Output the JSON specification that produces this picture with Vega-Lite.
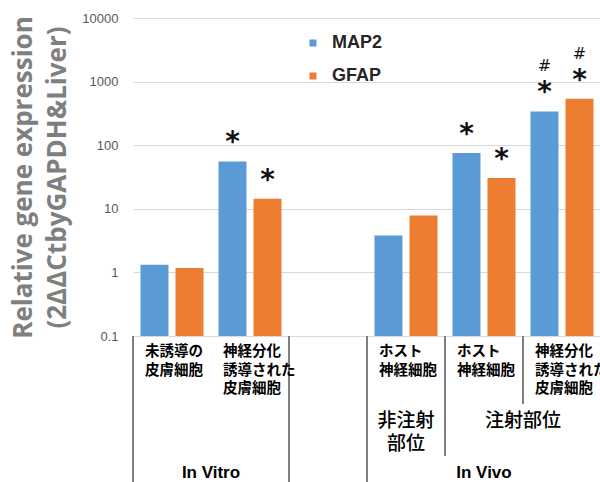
{
  "$schema": "https://vega.github.io/schema/vega-lite/v6.json",
  "padding": {"left": 10, "top": 12, "right": 0, "bottom": 0},
  "background": "white",
  "spacing": 0,
  "bounds": "flush",
  "config": {"view": {"stroke": null}},
  "datasets": {
    "bars": [
      {"cat": "A", "series": "MAP2", "value": 1.32, "sig": "", "hash": ""},
      {"cat": "A", "series": "GFAP", "value": 1.17, "sig": "", "hash": ""},
      {"cat": "B", "series": "MAP2", "value": 55.6, "sig": "*", "hash": ""},
      {"cat": "B", "series": "GFAP", "value": 14.4, "sig": "*", "hash": ""},
      {"cat": "D", "series": "MAP2", "value": 3.82, "sig": "", "hash": ""},
      {"cat": "D", "series": "GFAP", "value": 7.87, "sig": "", "hash": ""},
      {"cat": "E", "series": "MAP2", "value": 75.4, "sig": "*", "hash": ""},
      {"cat": "E", "series": "GFAP", "value": 30.5, "sig": "*", "hash": ""},
      {"cat": "F", "series": "MAP2", "value": 340, "sig": "*", "hash": "#"},
      {"cat": "F", "series": "GFAP", "value": 538, "sig": "*", "hash": "#"}
    ],
    "dividers": [
      {"pos": 0, "depth": 160},
      {"pos": 2, "depth": 160},
      {"pos": 3, "depth": 160},
      {"pos": 4, "depth": 120},
      {"pos": 5, "depth": 68}
    ],
    "level1": [
      {"pos": 0.5, "label": "未誘導の\n皮膚細胞"},
      {"pos": 1.5, "label": "神経分化\n誘導された\n皮膚細胞"},
      {"pos": 3.5, "label": "ホスト\n神経細胞"},
      {"pos": 4.5, "label": "ホスト\n神経細胞"},
      {"pos": 5.5, "label": "神経分化\n誘導された\n皮膚細胞"}
    ],
    "level2": [
      {"pos": 3.5, "label": "非注射\n部位"},
      {"pos": 5.0, "label": "注射部位"}
    ],
    "level3": [
      {"pos": 1.0, "label": "In Vitro"},
      {"pos": 4.5, "label": "In Vivo"}
    ]
  },
  "vconcat": [
    {
      "width": 468,
      "height": 318,
      "data": {"name": "bars"},
      "encoding": {
        "x": {"field": "cat", "type": "nominal", "scale": {"domain": ["A", "B", "C", "D", "E", "F"], "paddingInner": 0, "paddingOuter": 0},
              "axis": null},
        "xOffset": {"field": "series", "type": "nominal", "scale": {"domain": ["MAP2", "GFAP"], "paddingInner": 0.2, "paddingOuter": 0.214}},
        "y": {"field": "value", "type": "quantitative", "stack": null,
              "scale": {"type": "log", "domain": [0.1, 10000], "nice": false},
              "axis": {"values": [0.1, 1, 10, 100, 1000, 10000], "format": "~g",
                       "labelColor": "#595959", "labelFont": "Liberation Sans", "labelFontSize": 13, "labelPadding": 15,
                       "ticks": false, "domain": false, "gridColor": "#d9d9d9",
                       "title": ["Relative gene expression", "(2ΔΔCtbyGAPDH&Liver)"],
                       "titleFont": "Open Sans", "titleFontSize": 26, "titleFontWeight": "bold", "titleColor": "#7f7f7f",
                       "titlePadding": 11, "titleLineHeight": 34}}
      },
      "layer": [
        {
          "mark": {"type": "bar"},
          "encoding": {
            "color": {"field": "series", "type": "nominal",
                      "scale": {"domain": ["MAP2", "GFAP"], "range": ["#5b9bd5", "#ed7d31"]},
                      "legend": {"title": null, "orient": "none", "legendX": 171, "legendY": 16,
                                 "symbolType": "square", "symbolSize": 49, "symbolStrokeWidth": 0,
                                 "labelFont": "Liberation Sans", "labelFontSize": 18, "labelFontWeight": "bold",
                                 "labelColor": "#262626", "labelOffset": 10, "rowPadding": 15, "padding": 0}}
          }
        },
        {
          "transform": [{"filter": "datum.sig != ''"}],
          "mark": {"type": "text", "font": "DejaVu Sans", "fontWeight": "bold", "fontSize": 28, "baseline": "alphabetic", "dy": -10, "color": "#111111"},
          "encoding": {"text": {"field": "sig", "type": "nominal"}}
        },
        {
          "transform": [{"filter": "datum.hash != ''"}],
          "mark": {"type": "text", "font": "DejaVu Sans", "fontSize": 16, "baseline": "alphabetic", "dy": -40, "color": "#111111"},
          "encoding": {"text": {"field": "hash", "type": "nominal"}}
        }
      ]
    },
    {
      "width": 468,
      "height": 160,
      "layer": [
        {
          "data": {"name": "dividers"},
          "mark": {"type": "rule", "color": "#7f7f7f", "strokeWidth": 2},
          "encoding": {
            "x": {"field": "pos", "type": "quantitative", "scale": {"domain": [0, 6], "nice": false, "zero": false}, "axis": null},
            "y": {"field": "depth", "type": "quantitative", "scale": {"domain": [0, 160], "reverse": true, "nice": false}, "axis": null},
            "y2": {"datum": 0}
          }
        },
        {
          "data": {"name": "level1"},
          "mark": {"type": "text", "align": "left", "baseline": "top", "dx": -27, "lineBreak": "\n", "lineHeight": 18.5,
                   "font": "Noto Sans CJK JP", "fontWeight": "bold", "fontSize": 14.5, "color": "#000000"},
          "encoding": {
            "x": {"field": "pos", "type": "quantitative"},
            "y": {"datum": 9, "type": "quantitative"},
            "text": {"field": "label", "type": "nominal"}
          }
        },
        {
          "data": {"name": "level2"},
          "mark": {"type": "text", "align": "center", "baseline": "middle", "lineBreak": "\n", "lineHeight": 23,
                   "font": "Noto Sans CJK JP", "fontWeight": 500, "fontSize": 19, "color": "#000000"},
          "encoding": {
            "x": {"field": "pos", "type": "quantitative"},
            "y": {"datum": 85, "type": "quantitative"},
            "text": {"field": "label", "type": "nominal"}
          }
        },
        {
          "data": {"name": "level3"},
          "mark": {"type": "text", "align": "center", "baseline": "middle",
                   "font": "Liberation Sans", "fontWeight": "bold", "fontSize": 17, "color": "#000000"},
          "encoding": {
            "x": {"field": "pos", "type": "quantitative"},
            "y": {"datum": 137, "type": "quantitative"},
            "text": {"field": "label", "type": "nominal"}
          }
        }
      ]
    }
  ]
}
